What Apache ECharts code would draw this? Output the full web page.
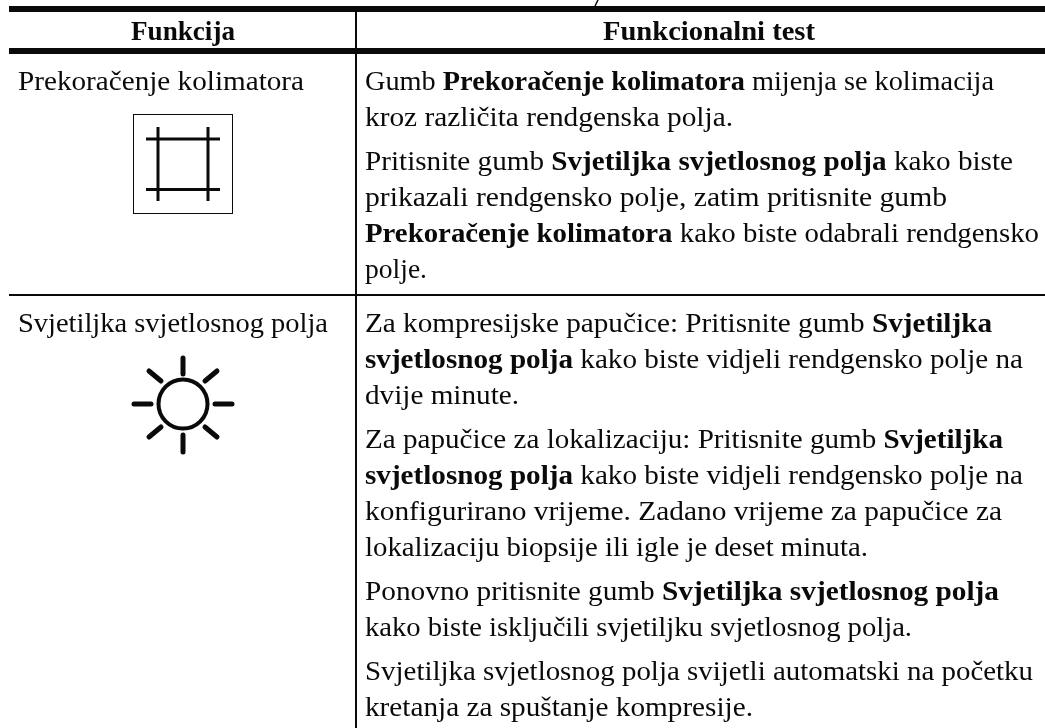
<!DOCTYPE html>
<html>
<head>
<meta charset="utf-8">
<style>
  html, body { margin: 0; padding: 0; background: #fff; }
  #chart1 { width: 1045px; height: 728px; }
</style>
<script src="https://cdn.jsdelivr.net/npm/echarts@6/dist/echarts.min.js"></script>
</head>
<body>
<div id="chart1"></div>
<script>
// ** marks a bold run. each line is [text, baseline y, right edge x]
const headers = [
  ['**Funkcija**', 40, 131, 235],
  ['**Funkcionalni test**', 40, 603, 815]
];

const leftCol = [
  ['Prekoračenje kolimatora', 90, 18, 304],
  ['Svjetiljka svjetlosnog polja', 332, 18, 328]
];

const rightCol = [
  ['Gumb **Prekoračenje kolimatora** mijenja se kolimacija', 90, 994],
  ['kroz različita rendgenska polja.', 126, 733],
  ['Pritisnite gumb **Svjetiljka svjetlosnog polja** kako biste', 170, 1013],
  ['prikazali rendgensko polje, zatim pritisnite gumb', 206, 947],
  ['**Prekoračenje kolimatora** kako biste odabrali rendgensko', 242, 1039],
  ['polje.', 278, 427],
  ['Za kompresijske papučice: Pritisnite gumb **Svjetiljka**', 332, 992],
  ['**svjetlosnog polja** kako biste vidjeli rendgensko polje na', 368, 1023],
  ['dvije minute.', 404, 519],
  ['Za papučice za lokalizaciju: Pritisnite gumb **Svjetiljka**', 448, 1003],
  ['**svjetlosnog polja** kako biste vidjeli rendgensko polje na', 484, 1023],
  ['konfigurirano vrijeme. Zadano vrijeme za papučice za', 520, 1002],
  ['lokalizaciju biopsije ili igle je deset minuta.', 556, 868],
  ['Ponovno pritisnite gumb **Svjetiljka svjetlosnog polja**', 600, 999],
  ['kako biste isključili svjetiljku svjetlosnog polja.', 636, 912],
  ['Svjetiljka svjetlosnog polja svijetli automatski na početku', 680, 1033],
  ['kretanja za spuštanje kompresije.', 716, 753]
];

const INK = '#0a0a0a';
const FONT_SIZE = 27;
const FONT_FAMILY = '"Liberation Serif"';
const BASELINE_SHIFT = 7;
const measureCtx = document.createElement('canvas').getContext('2d');

const fontFor = (bold) => (bold ? 'bold ' : '') + FONT_SIZE + 'px ' + FONT_FAMILY;

const textWidth = (str, bold) => {
  measureCtx.font = fontFor(bold);
  return measureCtx.measureText(str).width;
};

// squeeze or stretch a line so it spans the same width as the picture
const lineToGraphics = (src, baseline, x0, x1) => {
  const runs = src.split('**').map((t, i) => ({ t: t, bold: i % 2 === 1 })).filter((r) => r.t);
  const total = runs.reduce((s, r) => s + textWidth(r.t, r.bold), 0);
  const scale = (x1 - x0) / total;
  let x = x0;
  return runs.map((r) => {
    const el = {
      type: 'text',
      x: x,
      y: baseline - BASELINE_SHIFT,
      scaleX: scale,
      style: {
        text: r.t,
        font: fontFor(r.bold),
        fill: INK,
        align: 'left',
        verticalAlign: 'middle'
      }
    };
    x += textWidth(r.t, r.bold) * scale;
    return el;
  });
};

const rect = (x, y, w, h) => ({ type: 'rect', shape: { x: x, y: y, width: w, height: h }, style: { fill: INK } });

const line = (x1, y1, x2, y2, width, cap) => ({
  type: 'line',
  shape: { x1: x1, y1: y1, x2: x2, y2: y2 },
  style: { stroke: INK, lineWidth: width, lineCap: cap || 'butt' }
});

const tableRules = () => [
  rect(9, 6, 1036, 6),
  rect(9, 48, 1036, 6),
  rect(9, 294, 1036, 2),
  rect(355, 12, 2, 716),
  // tail of a cut off letter above the table
  line(598, 0, 595, 6, 1.5)
];

const collimatorIcon = () => [
  rect(133, 114, 100, 1),
  rect(133, 213, 100, 1),
  rect(133, 114, 1, 100),
  rect(232, 114, 1, 100),
  line(146, 139, 220, 139, 3),
  line(146, 189.5, 220, 189.5, 3),
  line(158, 127, 158, 201, 3),
  line(208, 127, 208, 201, 3)
];

const sunIcon = () => [
  {
    type: 'circle',
    shape: { cx: 183, cy: 404, r: 24.5 },
    style: { fill: 'none', stroke: INK, lineWidth: 4 }
  },
  line(183, 358, 183, 374, 5, 'round'),
  line(183, 435, 183, 452, 5, 'round'),
  line(134, 404, 151, 404, 5, 'round'),
  line(215, 404, 232, 404, 5, 'round'),
  line(149, 371, 161, 381, 5, 'round'),
  line(217, 371, 205, 381, 5, 'round'),
  line(149, 437, 161, 427, 5, 'round'),
  line(217, 437, 205, 427, 5, 'round')
];

const getOptionTable = () => {
  const els = [].concat(tableRules(), collimatorIcon(), sunIcon());
  headers.concat(leftCol).forEach((l) => els.push(...lineToGraphics(l[0], l[1], l[2], l[3])));
  rightCol.forEach((l) => els.push(...lineToGraphics(l[0], l[1], 365, l[2])));
  return {
    animation: false,
    backgroundColor: '#fff',
    graphic: { elements: els }
  };
};

window.addEventListener('load', () => {
  const chart1 = echarts.init(document.getElementById('chart1'), null, { renderer: 'canvas' });
  chart1.setOption(getOptionTable());
});
</script>
</body>
</html>
